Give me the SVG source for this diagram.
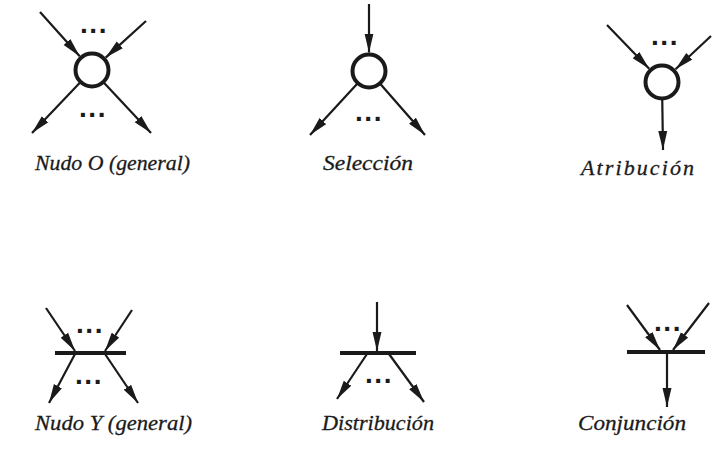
<svg xmlns="http://www.w3.org/2000/svg" width="726" height="450" viewBox="0 0 726 450">
  <style>
    .edge { stroke: #1a1a1a; stroke-width: 2.2; fill: none; marker-end: url(#ah); }
    .ring { stroke: #1a1a1a; stroke-width: 4; fill: #fff; }
    .bar { stroke: #1a1a1a; stroke-width: 4; }
    .dots { font-family: "Liberation Sans", Arial, sans-serif; font-weight: bold; font-size: 28px; letter-spacing: 1.5px; fill: #1a1a1a; text-anchor: middle; }
    .label { font-family: "Liberation Serif", "Times New Roman", serif; font-style: italic; font-size: 22px; fill: #1a1a1a; stroke: #1a1a1a; stroke-width: 0.3; }
  </style>
  <defs>
    <marker id="ah" markerUnits="userSpaceOnUse" markerWidth="19" markerHeight="10" refX="19" refY="5" orient="auto">
      <path d="M0,0.5 L19,5 L0,9.5 Z" fill="#1a1a1a"/>
    </marker>
  </defs>
  <rect width="726" height="450" fill="#fff"/>

  <!-- connectors -->
  <g id="connectors">
    <!-- OR node (general) -->
    <line class="edge" x1="40" y1="12" x2="79.7" y2="56.2"/>
    <line class="edge" x1="146" y1="21" x2="105.7" y2="57.6"/>
    <line class="edge" x1="92" y1="70" x2="32" y2="133"/>
    <line class="edge" x1="92" y1="70" x2="151" y2="133"/>
    <!-- selection -->
    <line class="edge" x1="369" y1="4" x2="369" y2="52.5"/>
    <line class="edge" x1="369" y1="71" x2="310" y2="135"/>
    <line class="edge" x1="369" y1="71" x2="425" y2="135"/>
    <!-- attribution -->
    <line class="edge" x1="607" y1="25" x2="649.2" y2="68.7"/>
    <line class="edge" x1="711" y1="36" x2="675.5" y2="69.3"/>
    <line class="edge" x1="662" y1="82" x2="663" y2="150"/>
    <!-- AND node (general) -->
    <line class="edge" x1="46" y1="308" x2="75" y2="351"/>
    <line class="edge" x1="132" y1="310" x2="105" y2="351"/>
    <line class="edge" x1="75" y1="354" x2="49" y2="403"/>
    <line class="edge" x1="105" y1="354" x2="138" y2="403"/>
    <!-- distribution -->
    <line class="edge" x1="377" y1="302" x2="377" y2="351"/>
    <line class="edge" x1="367" y1="354" x2="337" y2="399"/>
    <line class="edge" x1="389" y1="354" x2="424" y2="402"/>
    <!-- conjunction -->
    <line class="edge" x1="627" y1="305" x2="660" y2="350"/>
    <line class="edge" x1="709" y1="303" x2="673" y2="350"/>
    <line class="edge" x1="667" y1="353" x2="667" y2="407"/>
  </g>

  <!-- OR nodes -->
  <g id="nudo-o">
    <circle class="ring" cx="92" cy="70" r="16.5"/>
    <text class="dots" x="94" y="33">...</text>
    <text class="dots" x="93" y="117">...</text>
    <text class="label" x="35" y="170" textLength="155" lengthAdjust="spacingAndGlyphs">Nudo O (general)</text>
  </g>
  <g id="seleccion">
    <circle class="ring" cx="369" cy="71" r="16.5"/>
    <text class="dots" x="369" y="121">...</text>
    <text class="label" x="323" y="170" textLength="90" lengthAdjust="spacingAndGlyphs">Selección</text>
  </g>
  <g id="atribucion">
    <circle class="ring" cx="662" cy="82" r="16.5"/>
    <text class="dots" x="665" y="45">...</text>
    <text class="label" x="581" y="175" textLength="113" lengthAdjust="spacing">Atribución</text>
  </g>

  <!-- AND nodes -->
  <g id="nudo-y">
    <line class="bar" x1="55" y1="353" x2="126" y2="353"/>
    <text class="dots" x="90" y="333">...</text>
    <text class="dots" x="89" y="384">...</text>
    <text class="label" x="35" y="430" textLength="157" lengthAdjust="spacingAndGlyphs">Nudo Y (general)</text>
  </g>
  <g id="distribucion">
    <line class="bar" x1="340" y1="353" x2="416" y2="353"/>
    <text class="dots" x="379" y="383">...</text>
    <text class="label" x="322" y="430" textLength="112" lengthAdjust="spacingAndGlyphs">Distribución</text>
  </g>
  <g id="conjuncion">
    <line class="bar" x1="627" y1="352" x2="705" y2="352"/>
    <text class="dots" x="668" y="331">...</text>
    <text class="label" x="578" y="430" textLength="108" lengthAdjust="spacingAndGlyphs">Conjunción</text>
  </g>
</svg>
